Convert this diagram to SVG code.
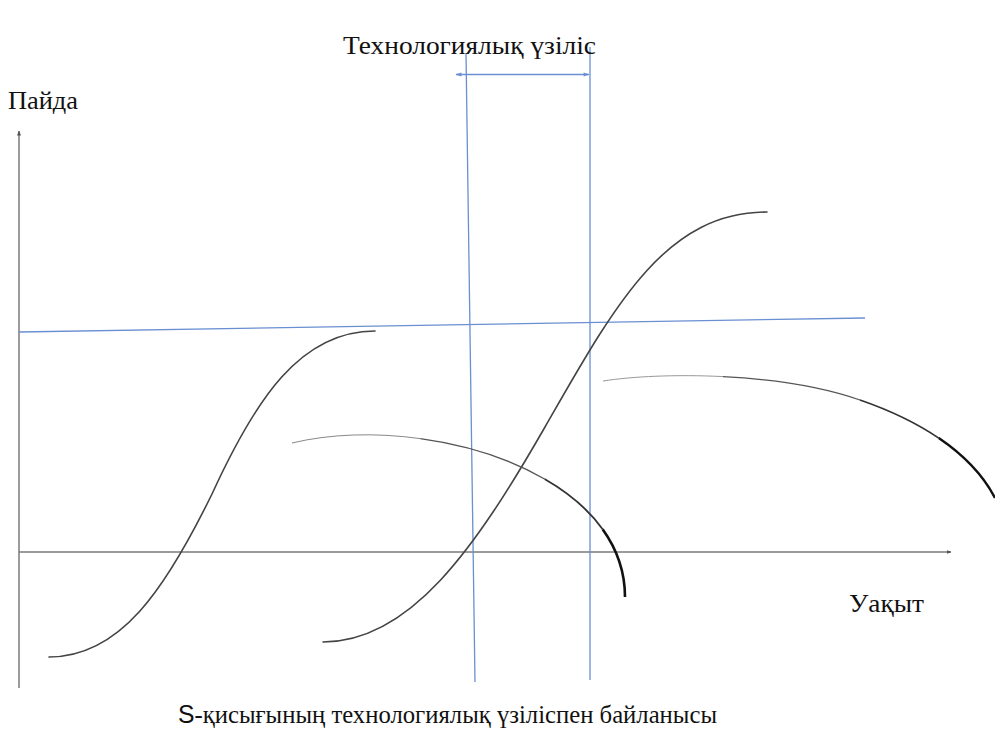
<svg xmlns="http://www.w3.org/2000/svg" width="995" height="744" viewBox="0 0 995 744">
<style>
  .lbl { font-family: 'Liberation Serif', 'Times New Roman', 'DejaVu Serif', serif; font-size: 26px; fill: #111; }
  .axis { stroke: #7a7a7a; stroke-width: 1.5; fill: none; }
  .blue { stroke: #6a8fd2; stroke-width: 1.3; fill: none; }
  .scurve { stroke: #444; stroke-width: 1.6; fill: none; stroke-linecap: round; }
  .arc { fill: none; stroke-linecap: butt; }
</style>
<defs>
  <marker id="axArrow" viewBox="0 0 10 10" refX="9" refY="5" markerWidth="5" markerHeight="5" orient="auto" markerUnits="userSpaceOnUse">
    <path d="M0,1 L10,5 L0,9 z" fill="#555"/>
  </marker>
  <marker id="bArrow" viewBox="0 0 10 10" refX="9" refY="5" markerWidth="8" markerHeight="6" orient="auto-start-reverse" markerUnits="userSpaceOnUse">
    <path d="M0,1.5 L10,5 L0,8.5 z" fill="#6a8fd2"/>
  </marker>
</defs>
<rect width="995" height="744" fill="#fff"/>

<g id="connectors">
  <line id="y-axis" class="axis" x1="19" y1="688" x2="19" y2="131" marker-end="url(#axArrow)"/>
  <line id="x-axis" class="axis" x1="19" y1="552" x2="951" y2="552" marker-end="url(#axArrow)"/>
  <line id="level-line" class="blue" x1="19" y1="332" x2="865" y2="318"/>
  <line id="gap-left" class="blue" x1="466" y1="53" x2="475" y2="682"/>
  <line id="gap-right" class="blue" x1="590" y1="47" x2="590" y2="680"/>
  <line id="gap-arrow" class="blue" x1="456" y1="74.5" x2="589" y2="74.5" stroke-width="1.1" marker-start="url(#bArrow)" marker-end="url(#bArrow)"/>
</g>

<g id="s-curve-1">
  <path class="scurve" d="M49,657 C120,657 165,590 212,494 C255,400 300,331 375,331"/>
</g>
<g id="s-curve-2">
  <path class="scurve" d="M323,642 C410,642 475,549 545,427 C615,305 665,212 767,212"/>
</g>
<g id="decline-1">
  <path class="arc" stroke="#888" stroke-width="1" d="M292,443 C330.4,433.7 375.7,432.4 420.35,438.6"/>
  <path class="arc" stroke="#555" stroke-width="1.3" d="M420.35,438.6 C465,444.75 508.95,458.4 544.6,479"/>
  <path class="arc" stroke="#333" stroke-width="1.8" d="M544.6,479 C568.4,492.7 588.5,509.5 602.65,529.2"/>
  <path class="arc" stroke="#111" stroke-width="2.6" d="M602.65,529.2 C616.8,549 625,571.6 625,597"/>
</g>
<g id="decline-2">
  <path class="arc" stroke="#999" stroke-width="1" d="M603,381 C631.5,376.5 675.75,374.25 722.9,376.6"/>
  <path class="arc" stroke="#555" stroke-width="1.3" d="M722.9,376.6 C770,379 820,386 860,400"/>
  <path class="arc" stroke="#333" stroke-width="1.7" d="M860,400 C887.5,409.5 915,422 938.75,438.1"/>
  <path class="arc" stroke="#111" stroke-width="2.4" d="M938.75,438.1 C962.5,454.25 982.5,474 995,498"/>
</g>

<g id="labels">
  <text id="title" class="lbl" x="343" y="54" textLength="253" lengthAdjust="spacingAndGlyphs">Технологиялық үзіліс</text>
  <text id="y-label" class="lbl" x="8" y="109" textLength="70" lengthAdjust="spacingAndGlyphs">Пайда</text>
  <text id="x-label" class="lbl" x="849" y="612" textLength="75" lengthAdjust="spacingAndGlyphs">Уақыт</text>
  <text id="caption" class="lbl" x="178" y="723" style="font-size:25px" textLength="539" lengthAdjust="spacingAndGlyphs"><tspan style="font-family:'Liberation Sans', sans-serif">S</tspan>-қисығының технологиялық үзіліспен байланысы</text>
</g>
</svg>
